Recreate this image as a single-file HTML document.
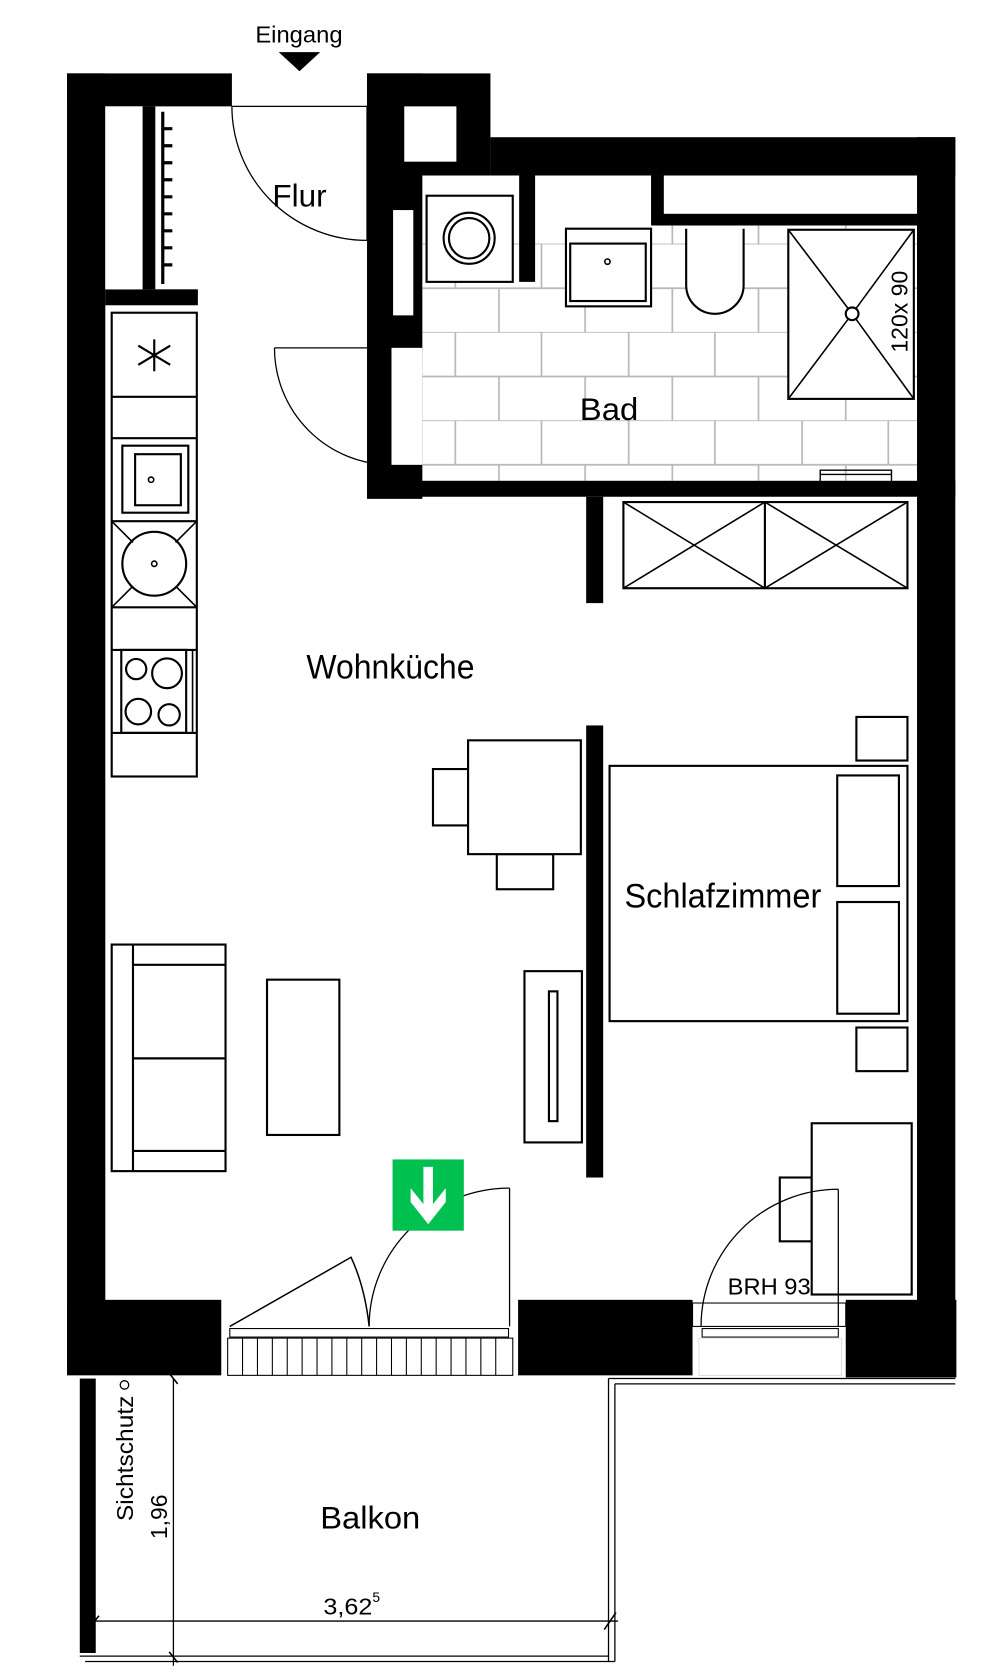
<!DOCTYPE html>
<html><head><meta charset="utf-8"><style>
html,body{margin:0;padding:0;background:#fff;}
svg{display:block;}
text{font-family:"Liberation Sans",sans-serif;fill:#000;}
</style></head><body>
<svg width="1000" height="1670" viewBox="0 0 940 1570" preserveAspectRatio="none" xmlns="http://www.w3.org/2000/svg">
<defs>
<pattern id="tiles" x="0" y="229" width="163" height="83" patternUnits="userSpaceOnUse">
<g stroke="#b8b8b8" stroke-width="1.6" fill="none">
<line x1="0" y1="0" x2="163" y2="0"/><line x1="0" y1="42" x2="163" y2="42"/>
<line x1="20" y1="0" x2="20" y2="42"/><line x1="102" y1="0" x2="102" y2="42"/>
<line x1="61" y1="42" x2="61" y2="83"/><line x1="143" y1="42" x2="143" y2="83"/>
</g></pattern>
</defs>
<rect width="940" height="1570" fill="#fff"/>
<rect x="397" y="165" width="465" height="287" fill="url(#tiles)"/>
<rect x="397" y="165" width="227" height="49" fill="#fff"/>

<g fill="#000">
<rect x="63" y="69" width="36" height="1221"/>
<rect x="63" y="69" width="155" height="31"/>
<rect x="345" y="69" width="116" height="96"/>
<rect x="345" y="69" width="52" height="400"/>
<rect x="461" y="129" width="437" height="36"/>
<rect x="862" y="129" width="36" height="1166"/>
<rect x="365" y="452" width="533" height="15"/>
<rect x="488" y="165" width="15" height="100"/>
<rect x="612" y="165" width="250" height="47"/>
<rect x="134" y="100" width="12" height="172"/>
<rect x="99" y="272" width="87" height="15"/>
<rect x="551" y="467" width="16" height="100"/>
<rect x="551" y="682" width="16" height="425"/>
<rect x="63" y="1222" width="145" height="71"/>
<rect x="487" y="1222" width="164" height="71"/>
<rect x="795" y="1222" width="104" height="73"/>
<rect x="75" y="1296" width="15" height="258"/>
</g>
<rect x="380" y="100" width="49" height="52" fill="#fff"/>
<rect x="624" y="165" width="238" height="36" fill="#fff"/>
<rect x="369" y="197" width="20" height="100" fill="#fff" stroke="#000" stroke-width="1"/>
<rect x="368" y="327" width="29" height="110" fill="#fff"/>
<rect x="99" y="100" width="35" height="172" fill="#fff"/>

<g fill="none" stroke="#000" stroke-width="1.2">
<line x1="153" y1="105" x2="153" y2="267" stroke-width="3"/>
<path d="M153 121h9M153 137h9M153 153h9M153 169h9M153 185h9M153 201h9M153 217h9M153 233h9M153 249h9" stroke-width="3"/>
<line x1="218" y1="100" x2="345" y2="100"/>
<line x1="345" y1="100" x2="345" y2="226"/>
<path d="M218 100 A127 126 0 0 0 345 226"/>
<line x1="258" y1="327" x2="368" y2="327"/>
<path d="M258 327 A110 110 0 0 0 368 437"/>
<rect x="401" y="184" width="81" height="81" fill="#fff" stroke-width="2"/>
<circle cx="441" cy="224" r="24" stroke-width="2"/>
<circle cx="441" cy="224" r="19" stroke-width="2"/>
<rect x="532" y="215" width="80" height="73" fill="#fff" stroke-width="2"/>
<rect x="536" y="229" width="71" height="54" stroke-width="2"/>
<circle cx="571" cy="246" r="2.5" stroke-width="1.5"/>
<path d="M645 215 V268 A27 27 0 0 0 699 268 V215" fill="#fff" stroke-width="2"/>
<rect x="741" y="216" width="118" height="159" fill="#fff" stroke-width="2"/>
<path d="M741 216 L801 295 L859 216 M741 375 L801 295 L859 375" stroke-width="1.5"/>
<circle cx="801" cy="295" r="6" fill="#fff" stroke-width="2"/>
<path d="M771 454 V442 H838 V454 M771 446 H838" stroke-width="1.3"/>
<rect x="586" y="472" width="267" height="81" stroke-width="2"/>
<line x1="719" y1="472" x2="719" y2="553" stroke-width="2"/>
<path d="M586 472 L719 553 M719 472 L586 553 M719 472 L853 553 M853 472 L719 553" stroke-width="1.5"/>
<rect x="105" y="294" width="80" height="436" stroke-width="2"/>
<path d="M105 373H185M105 412H185M105 490H185M105 571H185M105 611H185M105 689H185" stroke-width="2"/>
<path d="M145 319V349M130 325L160 343M160 325L130 343" stroke-width="2"/>
<rect x="115" y="419" width="62" height="63" stroke-width="2"/>
<rect x="127" y="427" width="43" height="48" stroke-width="2"/>
<circle cx="142" cy="451" r="2.5" stroke-width="1.5"/>
<circle cx="145" cy="530" r="30" stroke-width="2"/>
<circle cx="145" cy="530" r="2.5" stroke-width="1.5"/>
<path d="M105 490L125 510M185 490L165 510M105 571L125 551M185 571L165 551" stroke-width="1.5"/>
<rect x="114" y="611" width="61" height="78" stroke-width="2"/>
<line x1="181" y1="611" x2="181" y2="689" stroke-width="1.5"/>
<circle cx="128" cy="629" r="9.5" stroke-width="2"/>
<circle cx="157" cy="633" r="14" stroke-width="2"/>
<circle cx="130" cy="669" r="12" stroke-width="2"/>
<circle cx="159" cy="672" r="10" stroke-width="2"/>
<rect x="407" y="723" width="33" height="53" stroke-width="2"/>
<rect x="467" y="803" width="53" height="33" stroke-width="2"/>
<rect x="440" y="696" width="106" height="107" fill="#fff" stroke-width="2"/>
<rect x="573" y="720" width="280" height="240" stroke-width="2"/>
<rect x="787" y="729" width="58" height="104" stroke-width="2"/>
<rect x="787" y="848" width="58" height="105" stroke-width="2"/>
<rect x="805" y="674" width="48" height="41" stroke-width="2"/>
<rect x="805" y="966" width="48" height="41" stroke-width="2"/>
<rect x="105" y="888" width="107" height="213" stroke-width="2"/>
<line x1="125" y1="888" x2="125" y2="1101" stroke-width="2"/>
<path d="M125 907H212M125 995H212M125 1082H212" stroke-width="2"/>
<rect x="251" y="921" width="68" height="146" stroke-width="2"/>
<rect x="493" y="913" width="54" height="161" stroke-width="2"/>
<rect x="516" y="932" width="8" height="122" stroke-width="2"/>
<rect x="733" y="1107" width="30" height="60" stroke-width="2"/>
<rect x="763" y="1056" width="94" height="161" fill="#fff" stroke-width="2"/>
<line x1="479" y1="1117" x2="479" y2="1247"/>
<path d="M347 1247 A132 130 0 0 1 479 1117"/>
<path d="M216 1247 L330 1182 Q343 1210 347 1247" stroke-width="1.4"/>
<rect x="216" y="1249" width="262" height="8" stroke-width="1"/>
<rect x="214" y="1258" width="268" height="35" fill="#fff" stroke-width="1"/>
<path d="M228 1258v35M242 1258v35M256 1258v35M270 1258v35M284 1258v35M298 1258v35M312 1258v35M326 1258v35M340 1258v35M354 1258v35M368 1258v35M382 1258v35M396 1258v35M410 1258v35M424 1258v35M438 1258v35M452 1258v35M466 1258v35" stroke-width="1"/>
<rect x="651" y="1225" width="144" height="22" fill="#fff" stroke-width="1"/>
<rect x="660" y="1249" width="128" height="8" fill="#fff" stroke-width="1"/>
<rect x="657" y="1258" width="134" height="35" fill="#fff" stroke-width="0.6" stroke="#ccc"/>
<line x1="788" y1="1118" x2="788" y2="1247"/>
<path d="M659 1247 A129 129 0 0 1 788 1118"/>
<path d="M572 1296 H898 M578 1301 H898" stroke-width="1.2"/>
<path d="M572 1296 V1562 M578 1301 V1562" stroke-width="1.2"/>
<path d="M75 1557 H572 M80 1562 H578" stroke-width="1.2"/>
<line x1="163" y1="1296" x2="163" y2="1566"/>
<path d="M159 1291 L167 1301 M159 1553 L167 1563" stroke-width="1.5"/>
<line x1="89" y1="1524" x2="581" y2="1524"/>
<path d="M85 1529 L93 1519 M568 1532 L579 1516" stroke-width="1.5"/>
</g>
<rect x="369" y="1090" width="67" height="67" fill="#00c050"/>
<polygon points="398,1097 407,1097 407,1132 419,1117 419,1130 402.5,1151 386,1130 386,1117 398,1132" fill="#fff"/>
<text x="281" y="40" font-size="22" text-anchor="middle" textLength="82" lengthAdjust="spacingAndGlyphs">Eingang</text>
<polygon points="262,49 301,49 281.5,67" fill="#000"/>
<text x="256" y="194" font-size="30" textLength="51" lengthAdjust="spacingAndGlyphs">Flur</text>
<text x="545" y="395" font-size="30" textLength="55" lengthAdjust="spacingAndGlyphs">Bad</text>
<text transform="translate(362 247) rotate(-90)" font-size="22" text-anchor="middle" textLength="90" lengthAdjust="spacingAndGlyphs">HKV+UV</text>
<text transform="translate(853 293) rotate(-90)" font-size="22" text-anchor="middle" textLength="77" lengthAdjust="spacingAndGlyphs">120x 90</text>
<text x="288" y="638" font-size="32" textLength="158" lengthAdjust="spacingAndGlyphs">Wohnküche</text>
<text x="587" y="853" font-size="32" textLength="185" lengthAdjust="spacingAndGlyphs">Schlafzimmer</text>
<text x="684" y="1217" font-size="22" textLength="78" lengthAdjust="spacingAndGlyphs">BRH 93</text>
<text x="301" y="1437" font-size="30" textLength="94" lengthAdjust="spacingAndGlyphs">Balkon</text>
<text x="304" y="1518" font-size="22" textLength="46" lengthAdjust="spacingAndGlyphs">3,62</text>
<text x="350" y="1506" font-size="13">5</text>
<text transform="translate(125 1371) rotate(-90)" font-size="22" text-anchor="middle" textLength="118" lengthAdjust="spacingAndGlyphs">Sichtschutz</text>
<circle cx="117" cy="1302" r="4" fill="none" stroke="#000" stroke-width="1.2"/>
<text transform="translate(157 1426) rotate(-90)" font-size="22" text-anchor="middle" textLength="42" lengthAdjust="spacingAndGlyphs">1,96</text>
</svg>
</body></html>
